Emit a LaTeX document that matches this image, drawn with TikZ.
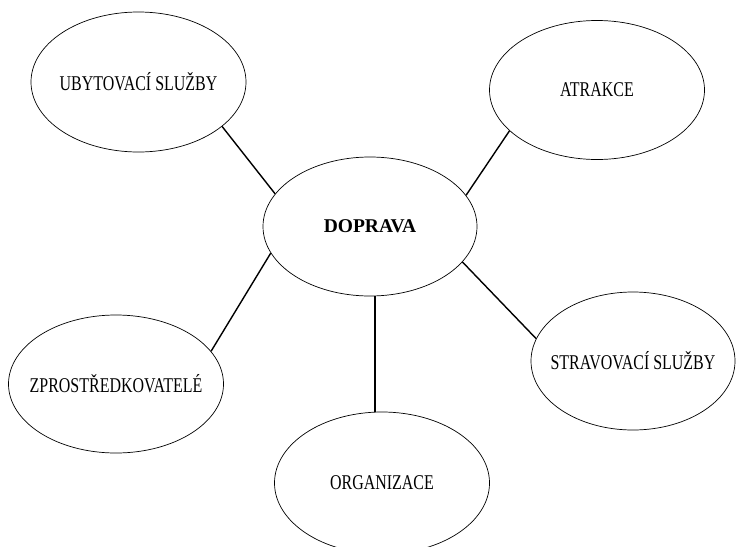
\documentclass[tikz,border=0pt]{standalone}
\usepackage{fontspec}
\setmainfont{Liberation Serif}
\usetikzlibrary{shapes.geometric}
\begin{document}
\begin{tikzpicture}[x=1pt,y=-1pt,
  bub/.style={draw, ellipse, line width=0.7pt, inner sep=0pt},
  lbl/.style={font=\fontsize{21}{23}\selectfont},
  link/.style={line width=1.4pt}]
\useasboundingbox (0,0) rectangle (736,546);
\clip (0,0) rectangle (736,546);
\node[bub, lbl, minimum width=215pt, minimum height=140pt] (uby) at (138.5,82)
  {\makebox[0pt]{\raisebox{-3pt}{\scalebox{0.76}[1]{UBYTOVACÍ SLUŽBY}}}};
\node[bub, lbl, minimum width=215pt, minimum height=139pt] (atr) at (597,90)
  {\makebox[0pt]{\raisebox{-2pt}{\scalebox{0.76}[1]{ATRAKCE}}}};
\node[bub, font=\fontsize{19.5}{21}\selectfont\bfseries, minimum width=214pt, minimum height=139pt] (dop) at (370,226.5)
  {\makebox[0pt]{DOPRAVA}};
\node[bub, lbl, minimum width=215pt, minimum height=138pt] (zpr) at (116,384)
  {\makebox[0pt]{\scalebox{0.76}[1]{ZPROSTŘEDKOVATELÉ}}};
\node[bub, lbl, minimum width=215pt, minimum height=142pt] (org) at (382,483)
  {\makebox[0pt]{\scalebox{0.76}[1]{ORGANIZACE}}};
\node[bub, lbl, minimum width=204pt, minimum height=138pt] (str) at (633,361)
  {\makebox[0pt]{\scalebox{0.76}[1]{STRAVOVACÍ SLUŽBY}}};
\draw[link] (uby.-28.2) -- (dop.161.5);
\draw[link] (atr.205.2) -- (dop.18.7);
\draw[link] (dop.195) -- (zpr.19);
\draw[link] (dop.-86) -- (dop.-86 |- org.north);
\draw[link] (dop.-21.9) -- (str.167.8);
\end{tikzpicture}
\end{document}
